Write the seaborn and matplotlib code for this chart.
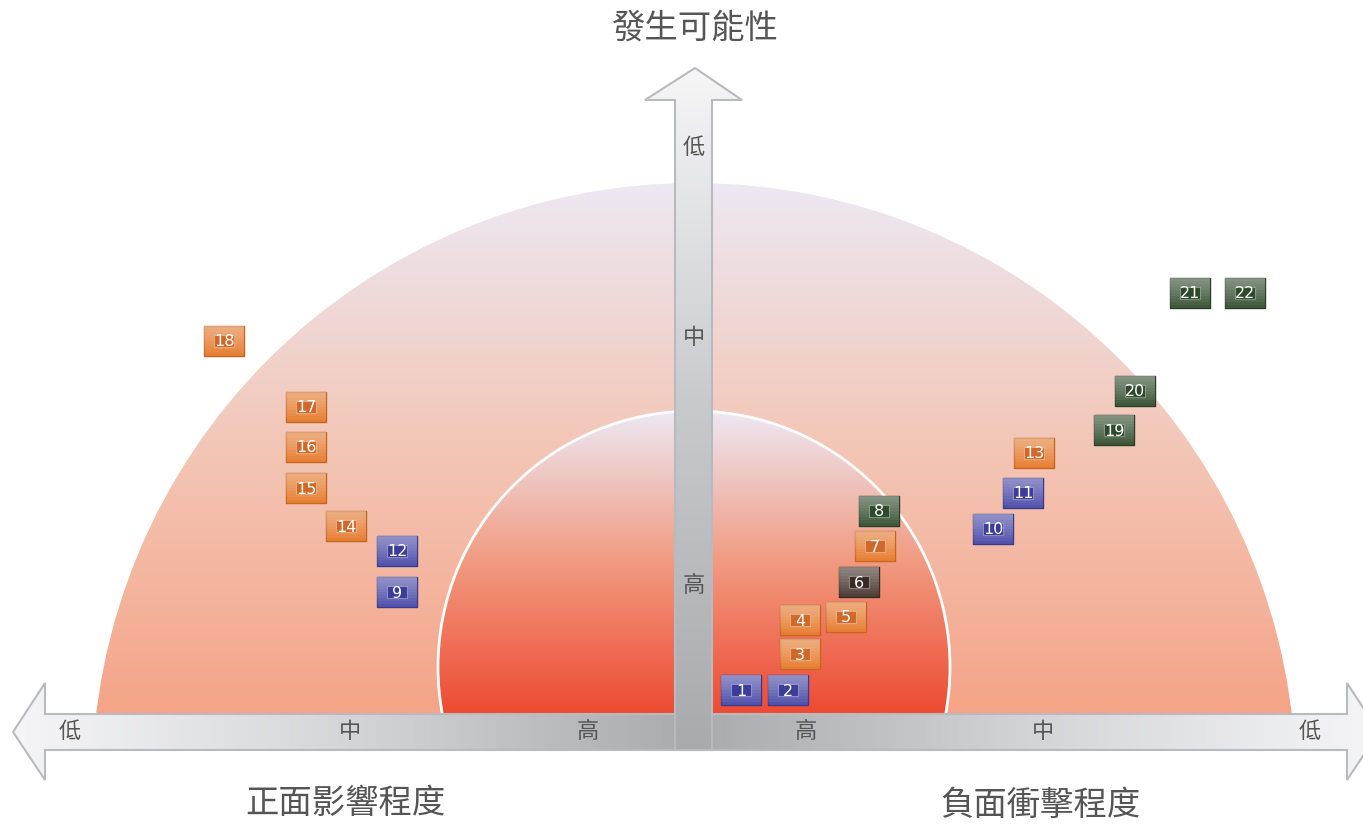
import numpy as np
import pandas as pd
import matplotlib.pyplot as plt
import seaborn as sns
from matplotlib.patches import Circle, Polygon
from matplotlib.path import Path
from matplotlib.colors import LinearSegmentedColormap

# risk items: x = offset from centre axis (px), y = height above horizontal axis (px)
item_ids = list(range(1, 23))
item_x = [47, 94, 106, 106, 152, 165, 181, 185, -297, 299, 329, -297, 340,
          -348, -388, -388, -388, -470, 420, 441, 496, 551]
item_y = [24, 24, 60, 94, 97, 132, 168, 203, 122, 185, 221, 163, 261,
          188, 226, 267, 307, 373, 284, 323, 421, 421]
item_group = ["blue", "blue", "orange", "orange", "orange", "brown", "orange", "green",
              "blue", "blue", "blue", "blue", "orange", "orange", "orange", "orange",
              "orange", "orange", "green", "green", "green", "green"]

x_levels = ["低", "中", "高", "高", "中", "低"]
x_level_pos = [-624, -344, -106, 112, 349, 616]
y_levels = ["低", "中", "高"]
y_level_pos = [566, 376, 129]

palette = {"blue": "#4a4aa8", "orange": "#e67a2c", "green": "#34502f", "brown": "#45352d"}
edge_pal = {"blue": "#3a3a92", "orange": "#c8641e", "green": "#2c3e2a", "brown": "#3a2a22"}
inner_pal = {"blue": "#3c3c9a", "orange": "#d0682a", "green": "#2e4a2c", "brown": "#3a2a24"}

df = pd.DataFrame({"id": item_ids, "x": item_x, "y": item_y, "group": item_group})

sns.set_style("white")
plt.rcParams["font.family"] = ["Noto Sans CJK TC", "DejaVu Sans"]

fig = plt.figure(figsize=(13.63, 8.25), dpi=100)
ax = fig.add_axes([0, 0, 1, 1])
ax.set_xlim(-694, 669)
ax.set_ylim(-111, 714)
ax.axis("off")


def gradient_fill(patch, extent, colors, vertical=True, z=1):
    ax.add_patch(patch)
    cmap = LinearSegmentedColormap.from_list("g", colors)
    if vertical:
        grad = np.linspace(0, 1, 256).reshape(-1, 1)
    else:
        grad = np.linspace(0, 1, 256).reshape(1, -1)
    im = ax.imshow(grad, cmap=cmap, extent=extent, origin="lower", aspect="auto", zorder=z)
    im.set_clip_path(patch)


def rect_path(y0, y1, x0=-1, x1=1):
    return Path([(x0, y0), (x1, y0), (x1, y1), (x0, y1), (x0, y0)],
                [Path.MOVETO, Path.LINETO, Path.LINETO, Path.LINETO, Path.CLOSEPOLY])


# outer and inner half discs
outer = Circle((0, -71), 602, facecolor="none", edgecolor="none", zorder=1)
gradient_fill(outer, [-602, 602, 0, 531], ["#f5a487", "#f3c6b6", "#ede8f3"], z=1)
inner = Circle((0, 47), 256, facecolor="none", edgecolor="none", zorder=2)
gradient_fill(inner, [-256, 256, 0, 303], ["#ee4a32", "#f19a80", "#ede8f3"], z=2)
ax.add_patch(Circle((0, 47), 256, facecolor="none", edgecolor="white", lw=2, zorder=2.5))

# horizontal double arrow
h_pts = [(-681, -18), (-649, 31), (-649, 0), (653, 0), (653, 31), (685, -18),
         (653, -66), (653, -36), (-649, -36), (-649, -66)]
h_arrow = Polygon(h_pts, closed=True, facecolor="none", edgecolor="none", zorder=3)
gradient_fill(h_arrow, [-690, 690, -70, 35],
              ["#f6f6f7", "#d4d5d8", "#a9aaae", "#d4d5d8", "#f6f6f7"], vertical=False, z=3)
ax.add_patch(Polygon(h_pts, closed=True, facecolor="none", edgecolor="#b9babe", lw=1.5, zorder=3.1))

# vertical arrow
v_pts = [(1, 646), (48, 614), (18, 614), (18, -36), (-19, -36), (-19, 614), (-49, 614)]
v_arrow = Polygon(v_pts, closed=True, facecolor="none", edgecolor="none", zorder=4)
gradient_fill(v_arrow, [-50, 50, -36, 646], ["#a9aaae", "#c8c9cc", "#f6f6f7"], z=4)
ax.add_patch(Polygon(v_pts, closed=True, facecolor="none", edgecolor="#b9babe", lw=1.5, zorder=4.1))

# risk item boxes
box = rect_path(-0.74, 0.74)
sns.scatterplot(data=df, x="x", y="y", hue="group", palette=palette, marker=box,
                s=870, linewidth=1.0, edgecolor=[edge_pal[g] for g in df["group"]],
                legend=False, ax=ax, zorder=5)
# glossy vertical shading: stacked translucent bands, lighter towards the top
for k, t in enumerate(np.linspace(-0.7, 0.55, 10)):
    band = rect_path(t, 0.72, -0.97, 0.97)
    sns.scatterplot(data=df, x="x", y="y", color="white", marker=band, s=870,
                    linewidth=0, alpha=0.05, legend=False, ax=ax, zorder=5.1)
# small inner label plate
sns.scatterplot(data=df, x="x", y="y", hue="group", palette=inner_pal,
                marker=rect_path(-0.6, 0.6), s=200, linewidth=0.8, edgecolor="#ffffff55",
                legend=False, ax=ax, zorder=5.2)
ax.set_xlim(-694, 669)
ax.set_ylim(-111, 714)
ax.axis("off")

for i, x, y in zip(item_ids, item_x, item_y):
    ax.text(x, y - 1, str(i), color="white", fontsize=11.5, ha="center", va="center",
            family=["DejaVu Sans"], zorder=6)

# level labels
for lab, x in zip(x_levels, x_level_pos):
    ax.text(x, -18, lab, fontsize=16, color="#555555", ha="center", va="center", zorder=7)
for lab, y in zip(y_levels, y_level_pos):
    ax.text(0, y, lab, fontsize=16, color="#555555", ha="center", va="center", zorder=7)

ax.text(0, 686, "發生可能性", fontsize=24, color="#555555", ha="center", va="center")
ax.text(-349, -89, "正面影響程度", fontsize=24, color="#555555", ha="center", va="center")
ax.text(346, -92, "負面衝擊程度", fontsize=24, color="#555555", ha="center", va="center")

fig.savefig("out.png", dpi=100)
